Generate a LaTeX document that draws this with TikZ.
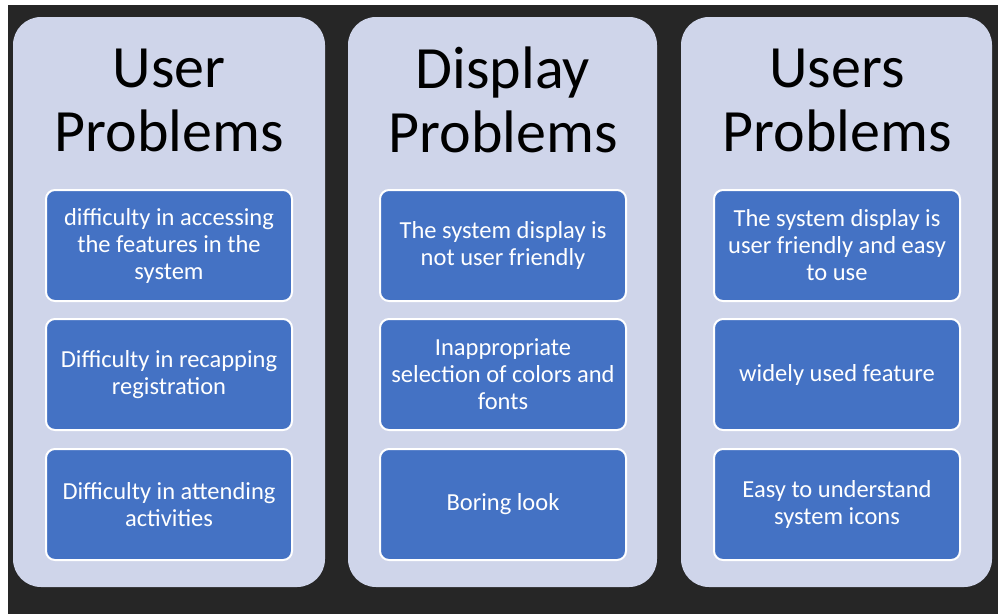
\documentclass[tikz,border=0pt]{standalone}
\usepackage{fontspec}
\setmainfont{Carlito}
\definecolor{bgdark}{HTML}{262626}
\definecolor{panelc}{HTML}{CFD5EA}
\definecolor{boxc}{HTML}{4472C4}
\begin{document}
\begin{tikzpicture}[x=1pt,y=-1pt,
  panel/.style={fill=panelc,rounded corners=28pt},
  itembox/.style={draw=white,line width=2pt,fill=boxc,rounded corners=9pt,minimum width=246pt,minimum height=111pt,align=center,text=white,font=\fontsize{24.5}{27}\selectfont,inner sep=0pt},
  ttl/.style={align=center,font=\fontsize{60}{64}\selectfont,text=black,inner sep=0pt}]
\fill[white] (0,0) rectangle (998,614);
\fill[bgdark] (8,5) rectangle (998,614);
\useasboundingbox (0,0) rectangle (998,614);
\fill[panel] (13,17) rectangle (325,587);
\fill[panel] (348,17) rectangle (657,587);
\fill[panel] (681,17) rectangle (992,587);
\node[ttl] (t1) at (169,100) {User\\Problems};
\node[ttl] (t2) at (503,100) {Display\\Problems};
\node[ttl] (t3) at (837,100) {Users\\Problems};
\node[itembox] (a1) at (169,245.5) {difficulty in accessing\\the features in the\\system};
\node[itembox] (a2) at (169,374.5) {Difficulty in recapping\\registration};
\node[itembox] (a3) at (169,504.5) {Difficulty in attending\\activities};
\node[itembox] (b1) at (503,245.5) {The system display is\\not user friendly};
\node[itembox] (b2) at (503,374.5) {Inappropriate\\selection of colors and\\fonts};
\node[itembox] (b3) at (503,504.5) {Boring look};
\node[itembox] (c1) at (837,245.5) {The system display is\\user friendly and easy\\to use};
\node[itembox] (c2) at (837,374.5) {widely used feature};
\node[itembox] (c3) at (837,504.5) {Easy to understand\\system icons};
\end{tikzpicture}
\end{document}
